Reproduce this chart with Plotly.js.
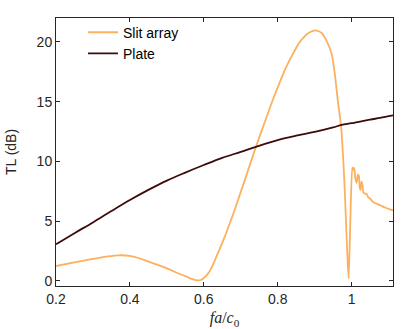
<!DOCTYPE html>
<html>
<head>
<meta charset="utf-8">
<script src="https://cdn.plot.ly/plotly-3.0.1.min.js"></script>
<style>
  html, body { margin: 0; padding: 0; background: #fff; }
  #chart { width: 415px; height: 329px; }
</style>
</head>
<body>
<div id="chart"></div>
<script>
const slitF = [0.2, 0.25, 0.3, 0.34, 0.37, 0.4, 0.43, 0.45, 0.5, 0.53, 0.55, 0.565, 0.575, 0.583, 0.592, 0.6, 0.61, 0.62, 0.635,
  0.653, 0.68, 0.711, 0.741, 0.765, 0.786, 0.8, 0.82, 0.841, 0.86, 0.8835, 0.901, 0.919, 0.932, 0.946,
  0.955, 0.963, 0.971, 0.9775, 0.982, 0.986, 0.989, 0.992, 0.9965, 1.0017, 1.004, 1.007, 1.010, 1.0136,
  1.017, 1.0197, 1.022, 1.024, 1.027, 1.029, 1.032, 1.036, 1.040, 1.045, 1.05, 1.058, 1.065, 1.077,
  1.09, 1.104, 1.112];
const slitTL = [1.25, 1.56, 1.84, 2.05, 2.15, 2.1, 1.85, 1.62, 1.06, 0.65, 0.4, 0.2, 0.09, 0.05, 0.08, 0.25, 0.55, 1.05, 2.1,
  3.42, 5.65, 8.44, 11.22, 13.3, 15.1, 16.2, 17.7, 19.0, 20.0, 20.75, 20.97, 20.75, 20.1, 19.0,
  17.2, 15.0, 13.1, 10.1, 7.2, 4.0, 1.8, 0.2, 5.0, 9.5, 9.3, 9.45, 8.6, 8.2,
  8.9, 8.8, 7.8, 7.6, 8.3, 8.1, 7.4, 7.3, 7.3, 7.0, 6.9, 6.6, 6.5, 6.35,
  6.15, 5.99, 5.9];

const plateF = [0.2, 0.25, 0.3, 0.35, 0.4, 0.45, 0.5, 0.55, 0.6, 0.65, 0.7, 0.741, 0.8, 0.85, 0.9,
  0.95, 0.973, 1.0, 1.05, 1.077, 1.112];
const plateTL = [3.07, 4.0, 4.9, 5.85, 6.77, 7.62, 8.4, 9.07, 9.7, 10.3, 10.8, 11.22, 11.78, 12.15, 12.47,
  12.85, 13.05, 13.2, 13.5, 13.64, 13.85];

const xTicks = [0.2, 0.4, 0.6, 0.8, 1];
const xTickText = ['0.2', '0.4', '0.6', '0.8', '1'];
const yTicks = [0, 5, 10, 15, 20];

const FONT = 'Liberation Sans, Arial, Helvetica, sans-serif';
const AXIS_COLOR = '#262626';

const axisCommon = {
  showline: true, mirror: 'ticks', linecolor: AXIS_COLOR, linewidth: 1,
  ticks: 'inside', ticklen: 4, tickcolor: AXIS_COLOR, tickwidth: 1,
  showgrid: false, zeroline: false,
  tickfont: { family: FONT, size: 14, color: AXIS_COLOR }
};

const traces = [
  { x: slitF, y: slitTL, mode: 'lines', name: 'Slit array', line: { color: '#fdb05e', width: 1.8, shape: 'spline', smoothing: 0.6 } },
  { x: plateF, y: plateTL, mode: 'lines', name: 'Plate', line: { color: '#3d0b0b', width: 1.8, shape: 'spline' } }
];

const layout = {
  width: 415, height: 329,
  margin: { l: 56, r: 22, t: 18, b: 43 },
  paper_bgcolor: '#fff', plot_bgcolor: '#fff',
  showlegend: true,
  legend: {
    x: 0.08, y: 1.005, xanchor: 'left', yanchor: 'top',
    bgcolor: 'rgba(0,0,0,0)', borderwidth: 0,
    font: { family: FONT, size: 14, color: '#000' },
    tracegroupgap: 0
  },
  xaxis: Object.assign({}, axisCommon, {
    range: [0.2, 1.112], tickvals: xTicks, ticktext: xTickText,
    title: { text: '<i>fa</i>/<i>c</i><sub>0</sub>', font: { family: 'Liberation Serif, DejaVu Serif, serif', size: 16, color: AXIS_COLOR }, standoff: 6 }
  }),
  yaxis: Object.assign({}, axisCommon, {
    range: [-0.42, 22], tickvals: yTicks,
    title: { text: 'TL (dB)', font: { family: FONT, size: 14, color: AXIS_COLOR }, standoff: 16 }
  })
};

Plotly.newPlot('chart', traces, layout, { displayModeBar: false, staticPlot: true });
</script>
</body>
</html>
